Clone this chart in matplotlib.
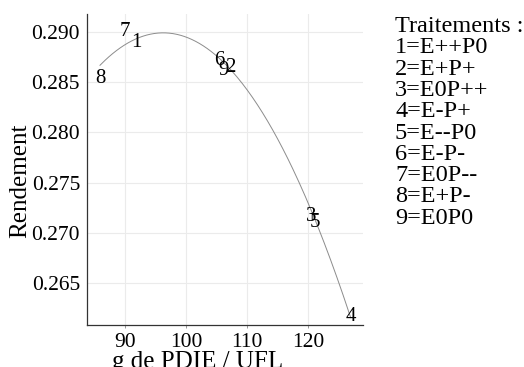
import numpy as np
import matplotlib
matplotlib.use("Agg")
import matplotlib.pyplot as plt

# treatment labels and their (PDIE/UFL, yield) positions
labels = ['1', '2', '3', '4', '5', '6', '7', '8', '9']
pdie_ufl = [91.8, 107.2, 120.5, 127.0, 121.1, 105.4, 90.0, 85.9, 106.1]
rendement = [0.2892, 0.2867, 0.2719, 0.2619, 0.2713, 0.2874, 0.2903, 0.2856, 0.2864]

legend_title = 'Traitements :'
legend_lines = ['1=E++P0', '2=E+P+', '3=E0P++', '4=E-P+', '5=E--P0',
                '6=E-P-', '7=E0P--', '8=E+P-', '9=E0P0']

xticks = [90, 100, 110, 120]
yticks = [0.265, 0.270, 0.275, 0.280, 0.285, 0.290]

plt.rcParams['font.family'] = ['Liberation Serif', 'DejaVu Serif']

W, H = 524, 367
fig = plt.figure(figsize=(W / 100, H / 100), dpi=100)
ax = fig.add_axes([87 / W, 1 - 325 / H, (363 - 87) / W, (325 - 14) / H])

# quadratic fit through the treatments
x = np.array(pdie_ufl)
y = np.array(rendement)
coef = np.polyfit(x, y, 2)
xs = np.linspace(x.min(), x.max(), 200)
ax.plot(xs, np.polyval(coef, xs), color='#8c8c8c', lw=0.7, zorder=2)

for lab, xi, yi in zip(labels, pdie_ufl, rendement):
    ax.text(xi, yi, lab, ha='center', va='center_baseline', fontsize=15, zorder=3)

ax.set_xlim(83.77, 129.02)
ax.set_ylim(0.2608, 0.2918)
ax.set_xticks(xticks)
ax.set_yticks(yticks)
ax.set_yticklabels(['%.3f' % v for v in yticks])
ax.grid(True, color='#ebebeb', lw=0.8, zorder=0)
ax.set_axisbelow(True)
for s in ['top', 'right']:
    ax.spines[s].set_visible(False)
for s in ['left', 'bottom']:
    ax.spines[s].set_color('#333333')
    ax.spines[s].set_linewidth(0.9)
ax.tick_params(axis='both', labelsize=15.5, length=2.5, width=0.6, color='#888888', pad=3)
ax.tick_params(axis='y', length=0, pad=5)

fig.text(198 / W, 1 - 351 / H, 'g de PDIE / UFL', ha='center', va='top', fontsize=18)
fig.text(20 / W, 1 - 181 / H, 'Rendement', ha='center', va='center', rotation=90, fontsize=18)

# treatments legend as plain text lines
fig.text(395 / W, 1 - 32 / H, legend_title, ha='left', va='baseline', fontsize=17.5)
for i, line in enumerate(legend_lines):
    fig.text(395 / W, 1 - (32 + 21.3 * (i + 1)) / H, line, ha='left', va='baseline', fontsize=17.5)

fig.savefig('out.png', dpi=100)
